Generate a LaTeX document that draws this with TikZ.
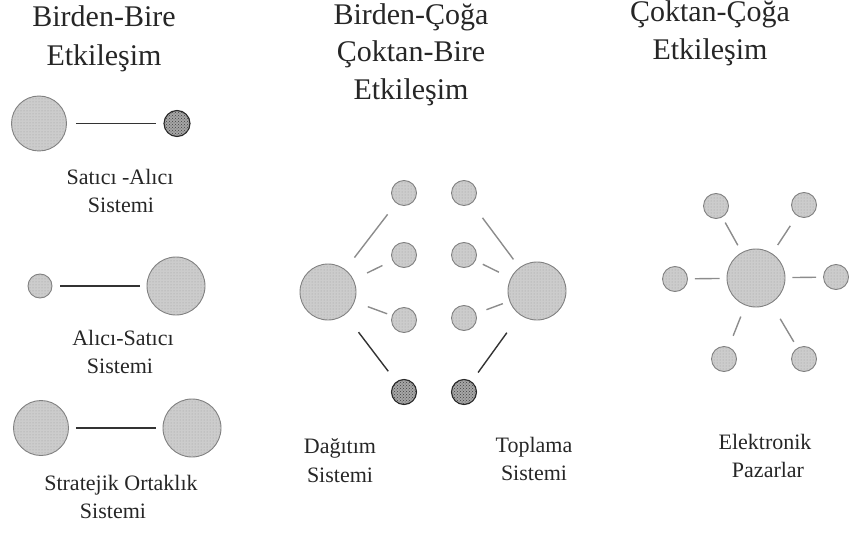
\documentclass[tikz,border=0pt]{standalone}
\usepackage{fontspec}
\setmainfont{Liberation Serif}
\usetikzlibrary{patterns}

\tikzset{
  ball/.style={circle, inner sep=0pt, minimum size=#1, draw=black!50, line width=0.9pt,
    fill=black!20, postaction={pattern=dots, pattern color=black!38}},
  darkball/.style={circle, inner sep=0pt, minimum size=#1, draw=black!85, line width=1.1pt,
    fill=black!35, postaction={pattern=crosshatch dots, pattern color=black!75}},
  title/.style={anchor=base, inner sep=0pt, font=\fontsize{30}{37.5}\selectfont, text=black!85},
  label/.style={anchor=base, inner sep=0pt, font=\fontsize{22}{28}\selectfont, text=black!85},
  darklink/.style={line width=1.4pt, draw=black!80},
  greylink/.style={line width=1.4pt, draw=black!45},
  gap/.style 2 args={shorten <=#1pt, shorten >=#2pt}
}

\begin{document}
\begin{tikzpicture}[x=1pt, y=-1pt]
\useasboundingbox (0,0) rectangle (850,537);

% ---- column titles ----
\node[title] (t1a) at (104,27) {Birden-Bire};
\node[title] (t1b) at (104,66) {Etkileşim};
\node[title] (t2a) at (411,25) {Birden-Çoğa};
\node[title] (t2b) at (411,62) {Çoktan-Bire};
\node[title] (t2c) at (411,100) {Etkileşim};
\node[title] (t3a) at (710,22) {Çoktan-Çoğa};
\node[title] (t3b) at (710,60) {Etkileşim};

% ---- one-to-one systems ----
\node[ball=55pt] (a1) at (39,123.5) {};
\node[darkball=26pt] (a2) at (177,123.5) {};
\draw[darklink, gap={9}{7}] (a1) -- (a2);
\node[label] (la1) at (120,185) {Satıcı -Alıcı};
\node[label] (la2) at (121,212) {Sistemi};

\node[ball=24pt] (b1) at (40,286) {};
\node[ball=58pt] (b2) at (176,286) {};
\draw[darklink, gap={8}{7}] (b1) -- (b2);
\node[label] (lb1) at (123,345) {Alıcı-Satıcı};
\node[label] (lb2) at (120,373) {Sistemi};

\node[ball=55pt] (c1) at (41,428) {};
\node[ball=58pt] (c2) at (192,428) {};
\draw[darklink, gap={7}{7}] (c1) -- (c2);
\node[label] (lc1) at (121,490) {Stratejik Ortaklık};
\node[label] (lc2) at (113,518) {Sistemi};

% ---- one-to-many / many-to-one systems ----
\node[ball=56pt] (L) at (328,292) {};
\node[ball=58pt] (R) at (537,291) {};
\node[ball=25pt] (s1) at (404,193) {};
\node[ball=25pt] (s2) at (464,193) {};
\node[ball=25pt] (m1) at (404,255) {};
\node[ball=25pt] (m2) at (464,255) {};
\node[ball=25pt] (l1) at (404,320) {};
\node[ball=25pt] (l2) at (464,318) {};
\node[darkball=25pt] (d1) at (404,392) {};
\node[darkball=25pt] (d2) at (464,392) {};

\draw[greylink, gap={15}{14}] (L) -- (s1);
\draw[greylink, gap={15}{11}] (L) -- (m1);
\draw[greylink, gap={14}{5}] (L) -- (l1);
\draw[darklink, gap={22}{13}] (L) -- (d1);
\draw[greylink, gap={10}{18}] (R) -- (s2);
\draw[greylink, gap={13}{8}] (R) -- (m2);
\draw[greylink, gap={7}{11}] (R) -- (l2);
\draw[darklink, gap={22}{11}] (R) -- (d2);

\node[label] (ld1) at (340,453) {Dağıtım};
\node[label] (ld2) at (340,482) {Sistemi};
\node[label] (lt1) at (534,452) {Toplama};
\node[label] (lt2) at (534,480) {Sistemi};

% ---- many-to-many: electronic markets ----
\node[ball=58pt] (C) at (756,278) {};
\node[ball=25pt] (p1) at (716,206) {};
\node[ball=25pt] (p2) at (804,205) {};
\node[ball=25pt] (p3) at (675,279) {};
\node[ball=25pt] (p4) at (836,277) {};
\node[ball=25pt] (p5) at (724,359) {};
\node[ball=25pt] (p6) at (804,359) {};
\draw[greylink, gap={8}{6}] (C) -- (p1);
\draw[greylink, gap={10}{12}] (C) -- (p2);
\draw[greylink, gap={7}{7}] (C) -- (p3);
\draw[greylink, gap={7}{7}] (C) -- (p4);
\draw[greylink, gap={12}{12}] (C) -- (p5);
\draw[greylink, gap={18}{7}] (C) -- (p6);

\node[label] (le1) at (765,449) {Elektronik};
\node[label] (le2) at (768,477) {Pazarlar};
\end{tikzpicture}
\end{document}
